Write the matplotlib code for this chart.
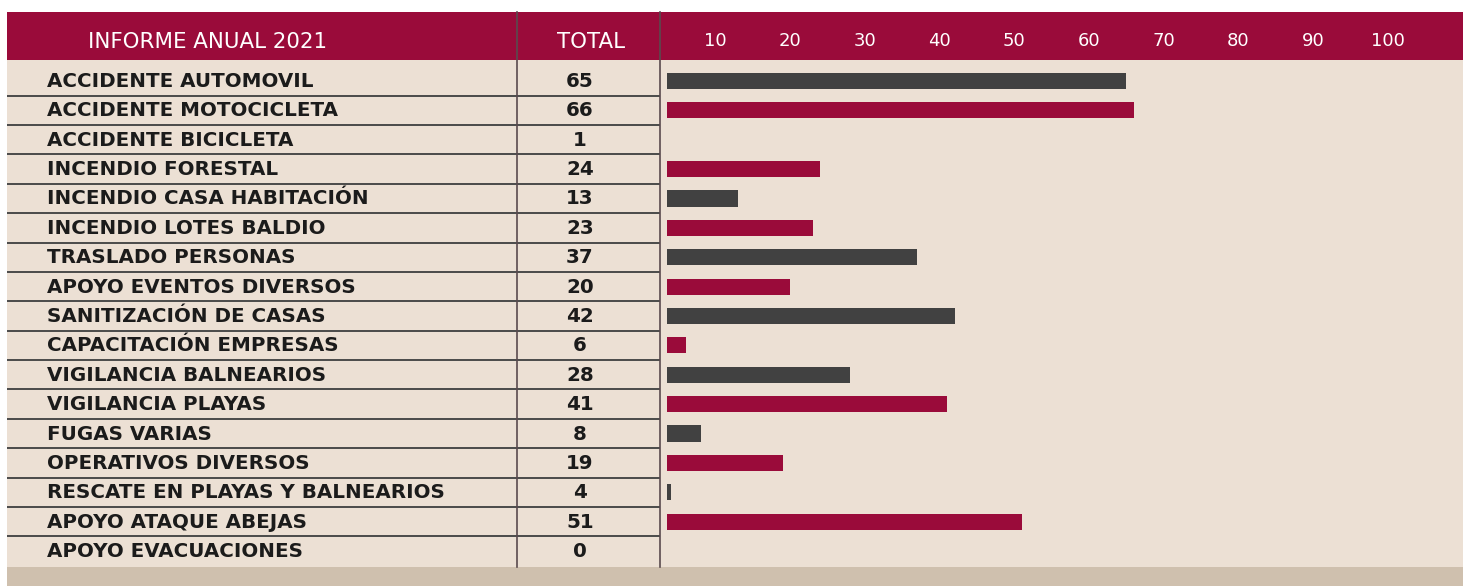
import matplotlib
matplotlib.use("Agg")
import matplotlib.pyplot as plt
from matplotlib.patches import Rectangle

# ---- data ----
title = "INFORME ANUAL 2021"
total_header = "TOTAL"
categories = [
    "ACCIDENTE AUTOMOVIL", "ACCIDENTE MOTOCICLETA", "ACCIDENTE BICICLETA",
    "INCENDIO FORESTAL", "INCENDIO CASA HABITACIÓN", "INCENDIO LOTES BALDIO",
    "TRASLADO PERSONAS", "APOYO EVENTOS DIVERSOS", "SANITIZACIÓN DE CASAS",
    "CAPACITACIÓN EMPRESAS", "VIGILANCIA BALNEARIOS", "VIGILANCIA PLAYAS",
    "FUGAS VARIAS", "OPERATIVOS DIVERSOS", "RESCATE EN PLAYAS Y BALNEARIOS",
    "APOYO ATAQUE ABEJAS", "APOYO EVACUACIONES",
]
totals = [65, 66, 1, 24, 13, 23, 37, 20, 42, 6, 28, 41, 8, 19, 4, 51, 0]
tick_values = [10, 20, 30, 40, 50, 60, 70, 80, 90, 100]
tick_labels = ["10", "20", "30", "40", "50", "60", "70", "80", "90", "100"]

# ---- style ----
W, H = 1463, 586
CRIMSON = "#9A0B3A"
DARK = "#414141"
BEIGE = "#ECE0D4"
TAN = "#CFC0AE"
LINE = "#4a4a4a"
FONT = ["DejaVu Sans"]
plt.rcParams["font.family"] = FONT

fig = plt.figure(figsize=(W / 100, H / 100), dpi=100, facecolor="white")

# background / table axes in pixel coordinates
bg = fig.add_axes([0, 0, 1, 1])
bg.set_xlim(0, W)
bg.set_ylim(H, 0)
bg.axis("off")

x0, top, head_bot, body_bot = 7, 12, 60, 567
col1, col2 = 517, 660
bg.add_patch(Rectangle((x0, top), W - x0, head_bot - top, color=CRIMSON, lw=0))
bg.add_patch(Rectangle((x0, head_bot), W - x0, body_bot - head_bot, color=BEIGE, lw=0))
bg.add_patch(Rectangle((x0, body_bot), W - x0, H - body_bot, color=TAN, lw=0))

row0, pitch = 81, 29.375
n = len(categories)
for i in range(n - 1):
    yl = row0 + (i + 0.5) * pitch
    bg.plot([x0, col2], [yl, yl], color=LINE, lw=1.4, solid_capstyle="butt")
for xc in (col1, col2):
    bg.plot([xc, xc], [top, body_bot], color="#5a4a4e", lw=1.2)

fs = 14.3
hfs = 15.4
bg.text(208, 42, title, color="white", fontsize=hfs, fontweight="normal",
        ha="center", va="center")
bg.text(591, 42, total_header, color="white", fontsize=hfs, fontweight="normal",
        ha="center", va="center")
for i, (c, t) in enumerate(zip(categories, totals)):
    y = row0 + i * pitch
    bg.text(47, y + 0.5, c, color="#1b1b1b", fontsize=fs, fontweight="bold",
            ha="left", va="center")
    bg.text(580, y + 0.5, str(t), color="#1b1b1b", fontsize=fs, fontweight="bold",
            ha="center", va="center")

# bar axes
ax_left, ax_right = 667, W
ax = fig.add_axes([ax_left / W, 1 - body_bot / H, (ax_right - ax_left) / W,
                   (body_bot - head_bot) / H])
ax.patch.set_alpha(0)
px_per_unit = 7.472
zero_px = 640.8
ax.set_xlim((ax_left - zero_px) / px_per_unit, (ax_right - zero_px) / px_per_unit)
ax.set_ylim((body_bot - row0) / pitch, (head_bot - row0) / pitch)
colors = [DARK if i % 2 == 0 else CRIMSON for i in range(n)]
ax.barh(range(n), totals, height=0.55, color=colors, left=0)
for s in ax.spines.values():
    s.set_visible(False)
ax.set_yticks([])
ax.set_xticks(tick_values)
ax.set_xticklabels(tick_labels)
ax.tick_params(axis="x", top=True, labeltop=True, bottom=False, labelbottom=False,
               length=0, pad=7, colors="white", labelsize=13)

fig.savefig("out.png", dpi=100, facecolor="white")
